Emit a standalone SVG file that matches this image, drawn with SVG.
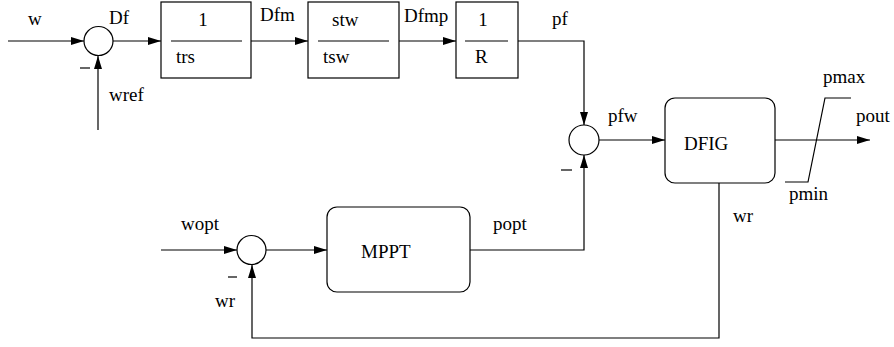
<svg xmlns="http://www.w3.org/2000/svg" width="894" height="347" viewBox="0 0 894 347">
<style>
.b{fill:#fff;stroke:#000;stroke-width:1.2}
.w{fill:none;stroke:#000;stroke-width:1.2}
</style>
<defs>
<marker id="a" markerUnits="userSpaceOnUse" markerWidth="14" markerHeight="8" refX="13" refY="4" orient="auto">
<path d="M0,0 L13,4 L0,8 z" fill="#000"/>
</marker>
</defs>
<rect width="894" height="347" fill="#fff"/>
<g id="connectors" class="w" marker-end="url(#a)">
<path d="M8,41 H84"/>
<path d="M98,130 V56"/>
<path d="M113,41 H161"/>
<path d="M251,41 H308"/>
<path d="M399,41 H456"/>
<path d="M518,41 H584 V125"/>
<path d="M599,140 H665"/>
<path d="M775,140 H870"/>
<path d="M470,250 H584 V155"/>
<path d="M161,250 H237"/>
<path d="M266,250 H327"/>
<path d="M719,183 V338 H252 V265"/>
</g>
<g font-family="'Liberation Serif', 'DejaVu Serif', serif" font-size="19px" fill="#000">
<g id="sum1"><circle class="b" cx="98.5" cy="41" r="14.5"/><path class="w" d="M80,68 H90"/></g>
<g id="trs"><rect class="b" x="161" y="2" width="90" height="76"/><path class="w" d="M171,41 H242"/><text x="203" y="26" text-anchor="middle">1</text><text x="176" y="63">trs</text></g>
<g id="tsw"><rect class="b" x="308" y="2" width="91" height="76"/><path class="w" d="M318,41 H389"/><text x="332" y="26">stw</text><text x="323" y="63">tsw</text></g>
<g id="R"><rect class="b" x="456" y="2" width="62" height="76"/><path class="w" d="M465,41 H508"/><text x="483" y="26" text-anchor="middle">1</text><text x="475" y="63">R</text></g>
<g id="sum2"><circle class="b" cx="584" cy="140" r="15"/><path class="w" d="M561,170 H572"/></g>
<g id="DFIG"><rect class="b" x="665" y="98" width="110" height="85" rx="10"/><text x="684" y="150">DFIG</text></g>
<g id="sat"><polyline class="w" points="785,182 808,182 825,98 851,98"/></g>
<g id="sum3"><circle class="b" cx="251.5" cy="250" r="14.5"/><path class="w" d="M228,277 H237"/></g>
<g id="MPPT"><rect class="b" x="327" y="207" width="143" height="85" rx="10"/><text x="361" y="258">MPPT</text></g>
<g id="labels">
<text x="28" y="25">w</text>
<text x="109" y="24">Df</text>
<text x="109" y="101">wref</text>
<text x="260" y="21">Dfm</text>
<text x="404" y="22">Dfmp</text>
<text x="552" y="25">pf</text>
<text x="608" y="122">pfw</text>
<text x="823" y="83">pmax</text>
<text x="856" y="122">pout</text>
<text x="789" y="200">pmin</text>
<text x="733" y="222">wr</text>
<text x="181" y="230">wopt</text>
<text x="493" y="230">popt</text>
<text x="215" y="307">wr</text>
</g>
</g>
</svg>
